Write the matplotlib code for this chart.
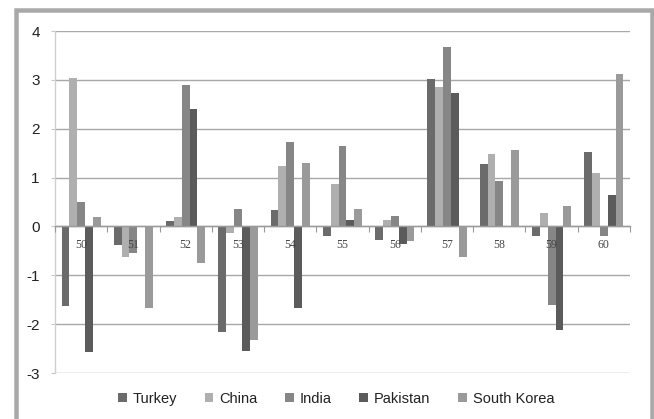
import matplotlib

matplotlib.use("Agg")
import matplotlib.pyplot as plt
from matplotlib.patches import Rectangle, Patch

# --- Data -------------------------------------------------------------------
YEARS = ["50", "51", "52", "53", "54", "55", "56", "57", "58", "59", "60"]

TURKEY = [-1.62, -0.39, 0.11, -2.17, 0.34, -0.20, -0.27, 3.02, 1.27, -0.20, 1.53]
CHINA = [3.04, -0.63, 0.19, -0.13, 1.23, 0.86, 0.14, 2.85, 1.49, 0.27, 1.10]
INDIA = [0.50, -0.54, 2.89, 0.36, 1.72, 1.64, 0.21, 3.67, 0.93, -1.60, -0.20]
PAKISTAN = [-2.57, 0.0, 2.41, -2.54, -1.66, 0.14, -0.35, 2.73, 0.0, -2.12, 0.65]
SOUTH_KOREA = [0.20, -1.66, -0.74, -2.33, 1.29, 0.35, -0.30, -0.63, 1.57, 0.42, 3.12]

SERIES = [
    ("Turkey", TURKEY, "#6b6b6b"),
    ("China", CHINA, "#afafaf"),
    ("India", INDIA, "#868686"),
    ("Pakistan", PAKISTAN, "#5b5b5b"),
    ("South Korea", SOUTH_KOREA, "#9a9a9a"),
]

YTICKS = [-3, -2, -1, 0, 1, 2, 3, 4]

# --- Figure -----------------------------------------------------------------
W, H = 654, 419
fig = plt.figure(figsize=(W / 100, H / 100), dpi=100)
fig.patch.set_facecolor("white")

# plot area in pixel terms, converted to figure fractions
left, right, top, bottom = 55, 630, 31, 373
ax = fig.add_axes([left / W, 1 - bottom / H, (right - left) / W, (bottom - top) / H])

bar_w = 0.15
x = list(range(len(YEARS)))
for i, (name, vals, color) in enumerate(SERIES):
    offs = (i - 2) * bar_w
    ax.bar([xi + offs for xi in x], vals, width=bar_w, color=color,
           label=name, zorder=3, linewidth=0)

ax.set_xlim(-0.5, len(YEARS) - 0.5)
ax.set_ylim(-3, 4)

# gridlines
ax.set_yticks(YTICKS)
ax.set_yticklabels([str(t) for t in YTICKS], fontsize=11,
                   family="Liberation Sans", color="#222222")
ax.yaxis.grid(True, color="#a8a8a8", linewidth=1.0, zorder=0)
ax.set_axisbelow(True)
ax.tick_params(axis="y", length=3, width=0.8, color="#c8c8c8", pad=8)

# spines: left light, bottom moved to zero
for s in ("top", "right"):
    ax.spines[s].set_visible(False)
ax.spines["left"].set_color("#cfcfcf")
ax.spines["left"].set_linewidth(1.0)
ax.spines["bottom"].set_position(("data", 0))
ax.spines["bottom"].set_color("#9a9a9a")
ax.spines["bottom"].set_linewidth(1.0)
ax.spines["bottom"].set_zorder(4)

# category labels at centres (drawn over the bars), tick marks at boundaries
ax.set_xticks(x)
ax.set_xticklabels(YEARS, fontsize=8.5, family="Liberation Serif",
                   color="#444444")
ax.tick_params(axis="x", which="major", length=0, pad=9)
ax.set_xticks([xi - 0.5 for xi in x] + [len(YEARS) - 0.5], minor=True)
ax.tick_params(axis="x", which="minor", length=4, width=0.8,
               color="#9a9a9a", direction="out")
ax.xaxis.set_zorder(5)

# legend
handles = [Patch(facecolor=c, edgecolor="none") for _, _, c in SERIES]
fig.legend(handles, [n for n, _, _ in SERIES], loc="center",
           bbox_to_anchor=(336 / W, 1 - 399 / H), ncol=5, frameon=False,
           prop={"family": "Liberation Sans", "size": 10.5},
           handlelength=0.6, handleheight=0.6, handletextpad=0.4,
           columnspacing=1.9, labelcolor="#222222")

# outer frame
lw_px = 4.5
fig.add_artist(Rectangle((15.8 / W, 1 - 420.5 / H), (651.5 - 15.8) / W,
                         (420.5 - 9.8) / H, transform=fig.transFigure,
                         fill=False, edgecolor="#a9a9a9",
                         linewidth=lw_px * 0.72, clip_on=False))

fig.savefig("out.png", dpi=100)
